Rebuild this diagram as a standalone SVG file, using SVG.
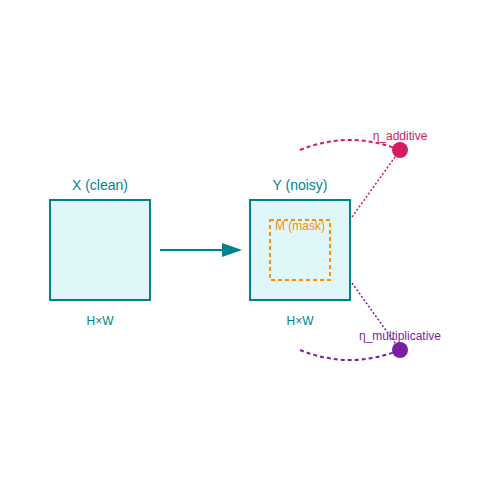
<svg xmlns="http://www.w3.org/2000/svg" width="500" height="500" viewBox="0 0 500 500">
<style>
text{font-family:"Liberation Sans",Arial,sans-serif;text-anchor:middle}
.box{fill:#e0f7fa;stroke:#00838f;stroke-width:2}
.t{fill:#00838f}
</style>
<defs>
<marker id="ah" markerWidth="10" markerHeight="7" refX="0" refY="3.5" orient="auto" markerUnits="strokeWidth">
<polygon points="0,0 10,3.5 0,7" fill="#00838f"/>
</marker>
</defs>
<rect width="500" height="500" fill="#fff"/>
<g id="X">
<rect class="box" x="50" y="200" width="100" height="100"/>
<text class="t" x="100" y="190" font-size="14">X (clean)</text>
<text class="t" x="100" y="325" font-size="12">H×W</text>
</g>
<g id="Y">
<rect class="box" x="250" y="200" width="100" height="100"/>
<text class="t" x="300" y="190" font-size="14">Y (noisy)</text>
<text class="t" x="300" y="325" font-size="12">H×W</text>
</g>
<g id="M">
<rect x="270" y="220" width="60" height="60" fill="none" stroke="#ff8f00" stroke-width="2" stroke-dasharray="4,3"/>
<text x="300" y="230" font-size="12" fill="#ff8f00">M (mask)</text>
</g>
<g id="connectors">
<line x1="160" y1="250" x2="222" y2="250" stroke="#00838f" stroke-width="2" marker-end="url(#ah)"/>
<path d="M300,150 Q350,130 400,150" fill="none" stroke="#d81b60" stroke-width="2" stroke-dasharray="4,3"/>
<line x1="352" y1="217" x2="400" y2="150" stroke="#d81b60" stroke-width="1.5" stroke-dasharray="2,2"/>
<path d="M300,350 Q350,370 400,350" fill="none" stroke="#7b1fa2" stroke-width="2" stroke-dasharray="4,3"/>
<line x1="352" y1="283" x2="400" y2="350" stroke="#7b1fa2" stroke-width="1.5" stroke-dasharray="2,2"/>
</g>
<g id="eta_add">
<circle cx="400" cy="150" r="8" fill="#d81b60"/>
<text x="400" y="140" font-size="12" fill="#d81b60">η_additive</text>
</g>
<g id="eta_mul">
<circle cx="400" cy="350" r="8" fill="#7b1fa2"/>
<text x="400" y="340" font-size="12" fill="#7b1fa2">η_multiplicative</text>
</g>
</svg>
